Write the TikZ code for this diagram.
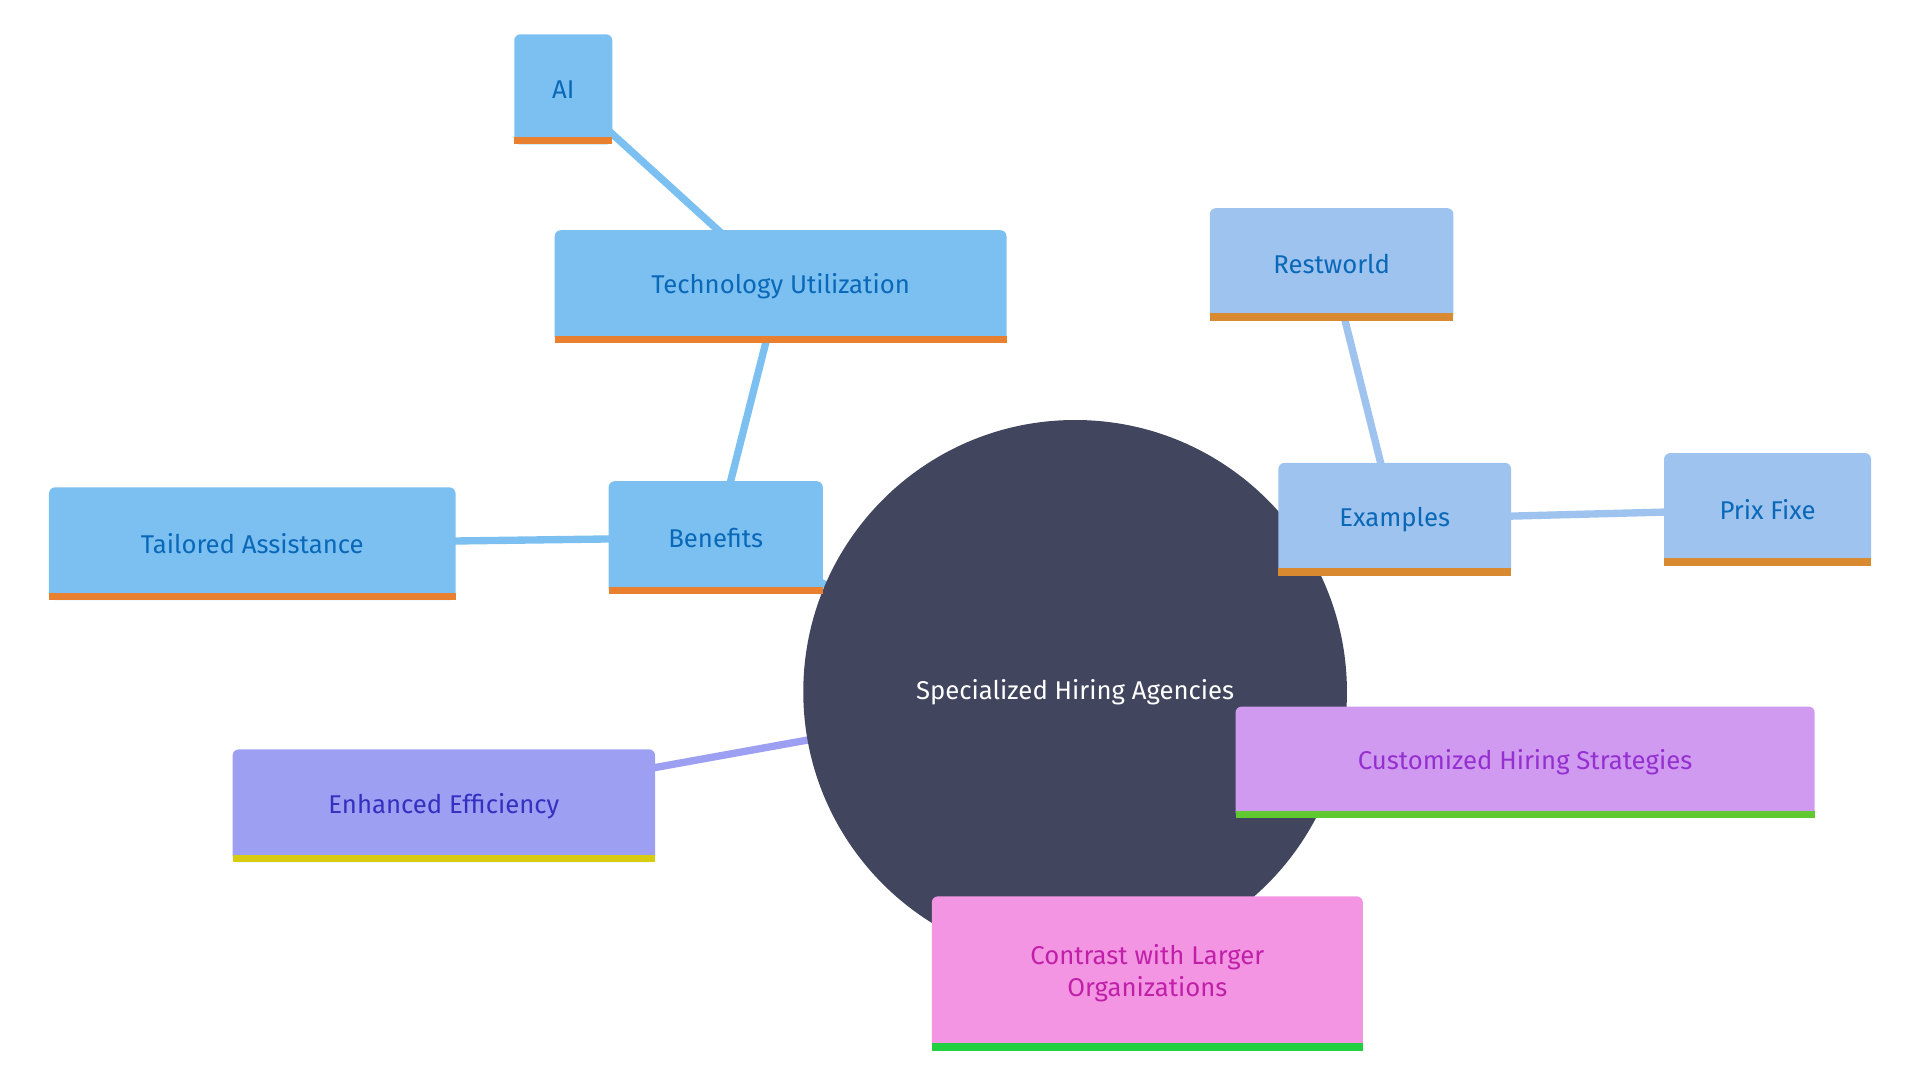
\documentclass[tikz,border=0pt]{standalone}
\usepackage{fontspec}
\setmainfont{Fira Sans}
\usetikzlibrary{calc}
\definecolor{bl}{HTML}{7BC0F0}\definecolor{blt}{HTML}{0A68B8}\definecolor{blb}{HTML}{E88030}
\definecolor{ex}{HTML}{9DC3EE}\definecolor{exb}{HTML}{D98A30}
\definecolor{en}{HTML}{9C9FF2}\definecolor{ent}{HTML}{3530C0}\definecolor{enb}{HTML}{D8CC10}
\definecolor{cu}{HTML}{D09AF0}\definecolor{cut}{HTML}{9530D0}\definecolor{cub}{HTML}{60C830}
\definecolor{co}{HTML}{F395E3}\definecolor{cot}{HTML}{C020A8}\definecolor{cob}{HTML}{20D040}
\definecolor{ci}{HTML}{41465E}
\tikzset{box/.style={rounded corners=5pt,inner sep=0,align=center,font=\fontsize{21}{26}\selectfont},
edge/.style={line width=6pt}}
\newcommand{\bx}[8]{% name, x1,y1,x2,y2, fill, text, bar, label
\node[box,fill=#6,text=#7,minimum width={#4-#2},minimum height={#5-#3}] (#1) at ({(#2+#4)/2},{(#3+#5)/2}) {};
\fill[#8] (#2,#5) rectangle (#4,#5-6);}
\newcommand{\lbl}[3]{\node[box,text=#2] at (#1) {#3};}
\begin{document}
\begin{tikzpicture}[x=1pt,y=-1pt]
\useasboundingbox (0,0) rectangle (1568,882);
\coordinate (c) at (878,565);
\coordinate (bn) at (585,439);\coordinate (tu) at (637,234);\coordinate (ai) at (460,73);
\coordinate (ta) at (206,444);\coordinate (exm) at (1139,424);\coordinate (rw) at (1087,216);
\coordinate (pf) at (1443,416);\coordinate (ee) at (362,658);
\draw[edge,bl] (c)--(bn) (bn)--(tu) (tu)--(ai) (bn)--(ta);
\draw[edge,ex] (c)--(exm) (exm)--(rw) (exm)--(pf);
\draw[edge,en] (c)--(ee);
\fill[ci] (c) circle (222);
\node[text=white,font=\fontsize{21}{26}\selectfont] (center) at (c) {Specialized Hiring Agencies};
\bx{nai}{420}{28}{500}{118}{bl}{blt}{blb}\lbl{nai}{blt}{AI}
\bx{ntu}{453}{188}{822}{280}{bl}{blt}{blb}\lbl{ntu}{blt}{Technology Utilization}
\bx{nbn}{497}{393}{672}{485}{bl}{blt}{blb}\lbl{nbn}{blt}{Benefits}
\bx{nta}{40}{398}{372}{490}{bl}{blt}{blb}\lbl{nta}{blt}{Tailored Assistance}
\bx{nex}{1044}{378}{1234}{470}{ex}{blt}{exb}\lbl{nex}{blt}{Examples}
\bx{nrw}{988}{170}{1187}{262}{ex}{blt}{exb}\lbl{nrw}{blt}{Restworld}
\bx{npf}{1359}{370}{1528}{462}{ex}{blt}{exb}\lbl{npf}{blt}{Prix Fixe}
\bx{nee}{190}{612}{535}{704}{en}{ent}{enb}\lbl{nee}{ent}{Enhanced Efficiency}
\bx{ncu}{1009}{577}{1482}{668}{cu}{cut}{cub}\lbl{ncu}{cut}{Customized Hiring Strategies}
\bx{nco}{761}{732}{1113}{858}{co}{cot}{cob}\lbl{nco}{cot}{Contrast with Larger\\Organizations}
\end{tikzpicture}
\end{document}
